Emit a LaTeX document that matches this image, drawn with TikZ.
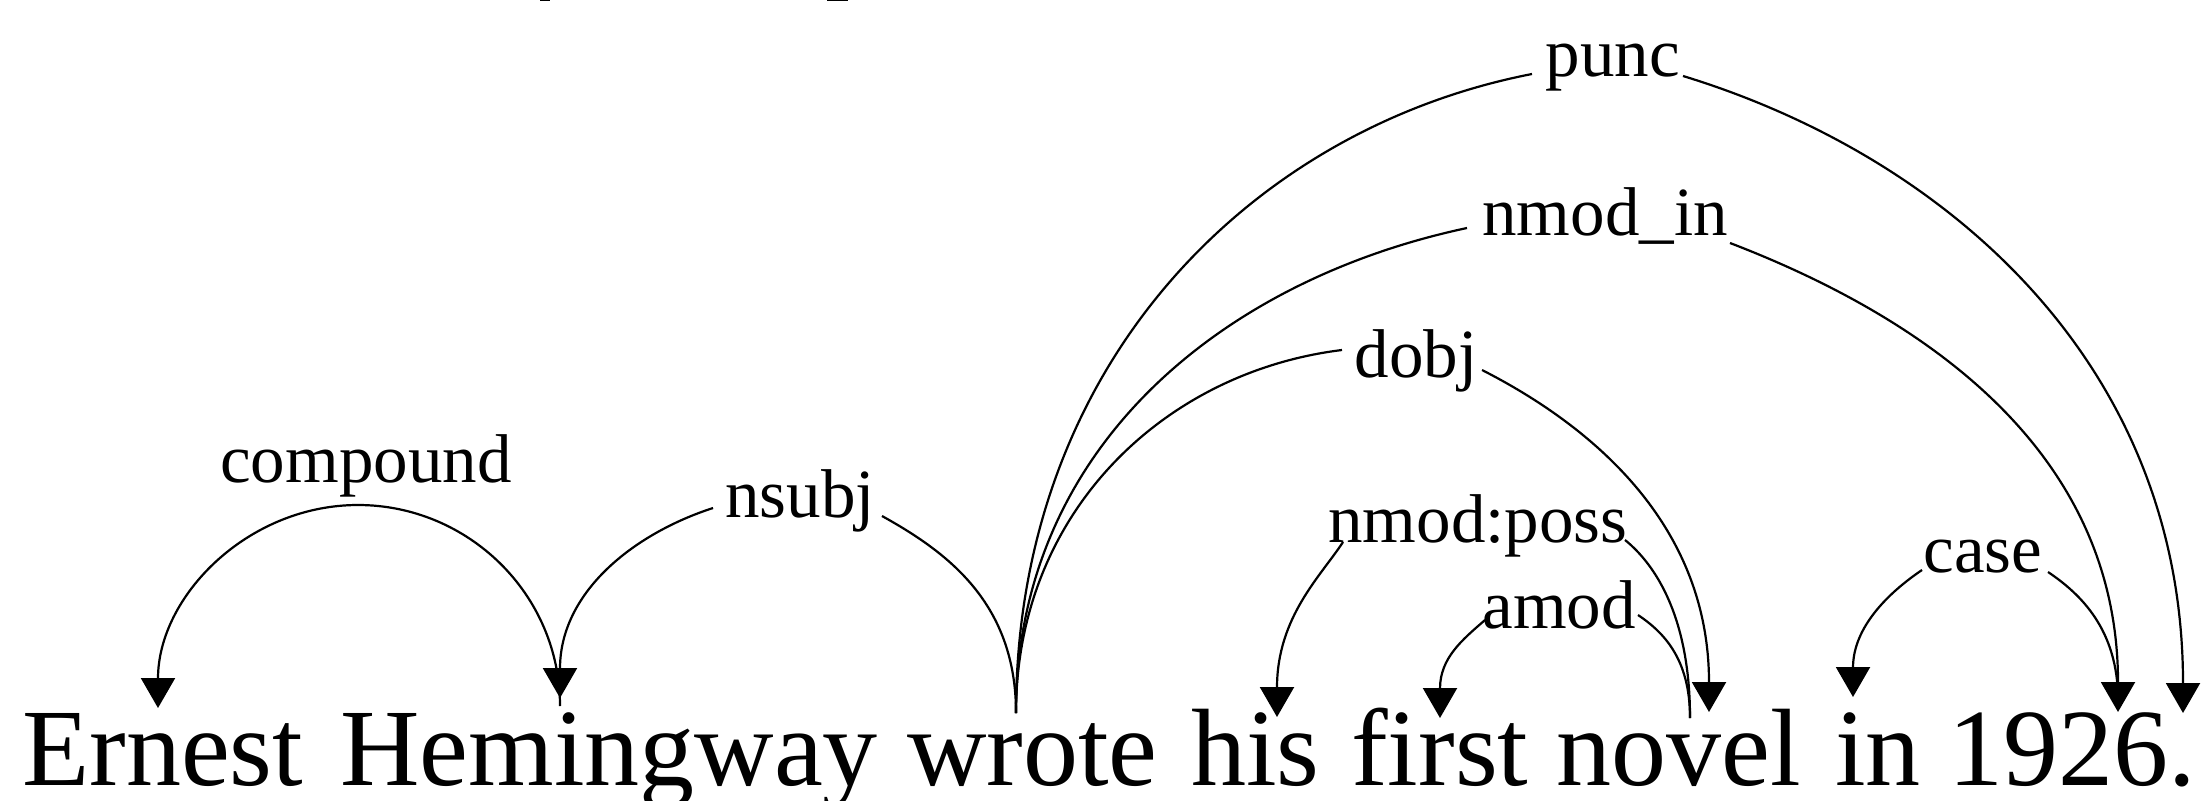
\documentclass[tikz,border=0pt]{standalone}
\usepackage{fontspec}
\setmainfont{Liberation Serif}[Ligatures=NoCommon]
\usetikzlibrary{arrows.meta}
\begin{document}
\begin{tikzpicture}[x=1pt,y=1pt,
  word/.style={anchor=base west,inner sep=0pt,font=\fontsize{110}{110}\selectfont},
  lbl/.style={anchor=base,inner sep=0pt,font=\fontsize{69}{69}\selectfont},
  arc/.style={line width=2.2pt,black},
  arr/.style={arc,-{Triangle[length=30pt,width=34pt]}}]
\useasboundingbox (0,0) rectangle (2202,-800);
% words
\node[word] (w1) at (22,-785) {Ernest};
\node[word] (w2) at (340,-785) {Hemingway};
\node[word] (w3) at (907,-785) {wrote};
\node[word] (w4) at (1191,-785) {his};
\node[word] (w5) at (1351,-785) {first};
\node[word] (w6) at (1556,-785) {novel};
\node[word] (w7) at (1835,-785) {in};
\node[word] (w8) at (1948,-785) {1926.};
% attachment points on words
\coordinate (ErT) at (158,-708);
\coordinate (HeT) at (560,-698);
\coordinate (HeS) at (560,-706);
\coordinate (WrS) at (1016,-713);
\coordinate (HiT) at (1277,-717);
\coordinate (FiT) at (1440,-718);
\coordinate (NoT) at (1709,-712);
\coordinate (NoS) at (1690,-718);
\coordinate (InT) at (1853,-697);
\coordinate (YrT) at (2118,-712);
\coordinate (YrS) at (2118,-700);
\coordinate (PuT) at (2183,-713);
% labels
\node[lbl] (Lcomp) at (366,-482) {compound};
\node[lbl] (Lnsubj) at (800,-517) {nsubj};
\node[lbl] (Ldobj) at (1416,-377) {dobj};
\node[lbl] (Lnin) at (1605,-235) {nmod\_in};
\node[lbl] (Lpunc) at (1613,-77) {punc};
\node[lbl] (Lposs) at (1478,-542) {nmod:poss};
\node[lbl] (Lamod) at (1559,-628) {amod};
\node[lbl] (Lcase) at (1983,-572) {case};
% label attachment points
\coordinate (compTop) at (358,-505);
\coordinate (nsubjL) at (713,-508);
\coordinate (nsubjR) at (882,-516);
\coordinate (dobjL) at (1342,-350);
\coordinate (dobjR) at (1482,-370);
\coordinate (ninL) at (1467,-228);
\coordinate (ninR) at (1730,-243);
\coordinate (puncL) at (1532,-74);
\coordinate (puncR) at (1683,-76);
\coordinate (possL) at (1343,-542);
\coordinate (possR) at (1625,-540);
\coordinate (amodL) at (1485,-620);
\coordinate (amodR) at (1638,-615);
\coordinate (caseL) at (1922,-570);
\coordinate (caseR) at (2048,-572);
% edges
\draw[arr] (HeS) to[out=90,in=0,out distance=112pt,in distance=110pt] (compTop)
  to[out=180,in=90,out distance=110pt,in distance=112pt] (ErT);
\draw[arr] (WrS) to[out=90,in=-29,out distance=110pt,in distance=75pt] (nsubjR)
  (nsubjL) to[out=198,in=90,out distance=85pt,in distance=105pt] (HeT);
\draw[arr] (WrS) to[out=90,in=187,out distance=200pt,in distance=180pt] (dobjL)
  (dobjR) to[out=-27,in=90,out distance=120pt,in distance=190pt] (NoT);
\draw[arr] (WrS) to[out=90,in=192,out distance=267pt,in distance=248pt] (ninL)
  (ninR) to[out=-21,in=90,out distance=215pt,in distance=258pt] (YrT);
\draw[arr] (WrS) to[out=90,in=191,out distance=350pt,in distance=285pt] (puncL)
  (puncR) to[out=-17,in=90,out distance=275pt,in distance=350pt] (PuT);
\draw[arr] (NoS) to[out=90,in=-39,out distance=100pt,in distance=40pt] (possR)
  (possL) to[out=237,in=90,out distance=40pt,in distance=100pt] (HiT);
\draw[arr] (NoS) to[out=90,in=-34,out distance=60pt,in distance=30pt] (amodR)
  (amodL) to[out=221,in=90,out distance=30pt,in distance=60pt] (FiT);
\draw[arr] (YrS) to[out=90,in=-34,out distance=70pt,in distance=40pt] (caseR)
  (caseL) to[out=214,in=90,out distance=40pt,in distance=70pt] (InT);
% clipped fragments at the top edge
\fill (540,0) rectangle (550,-1.5);
\fill (827,0) rectangle (848,-1.5);
\end{tikzpicture}
\end{document}
